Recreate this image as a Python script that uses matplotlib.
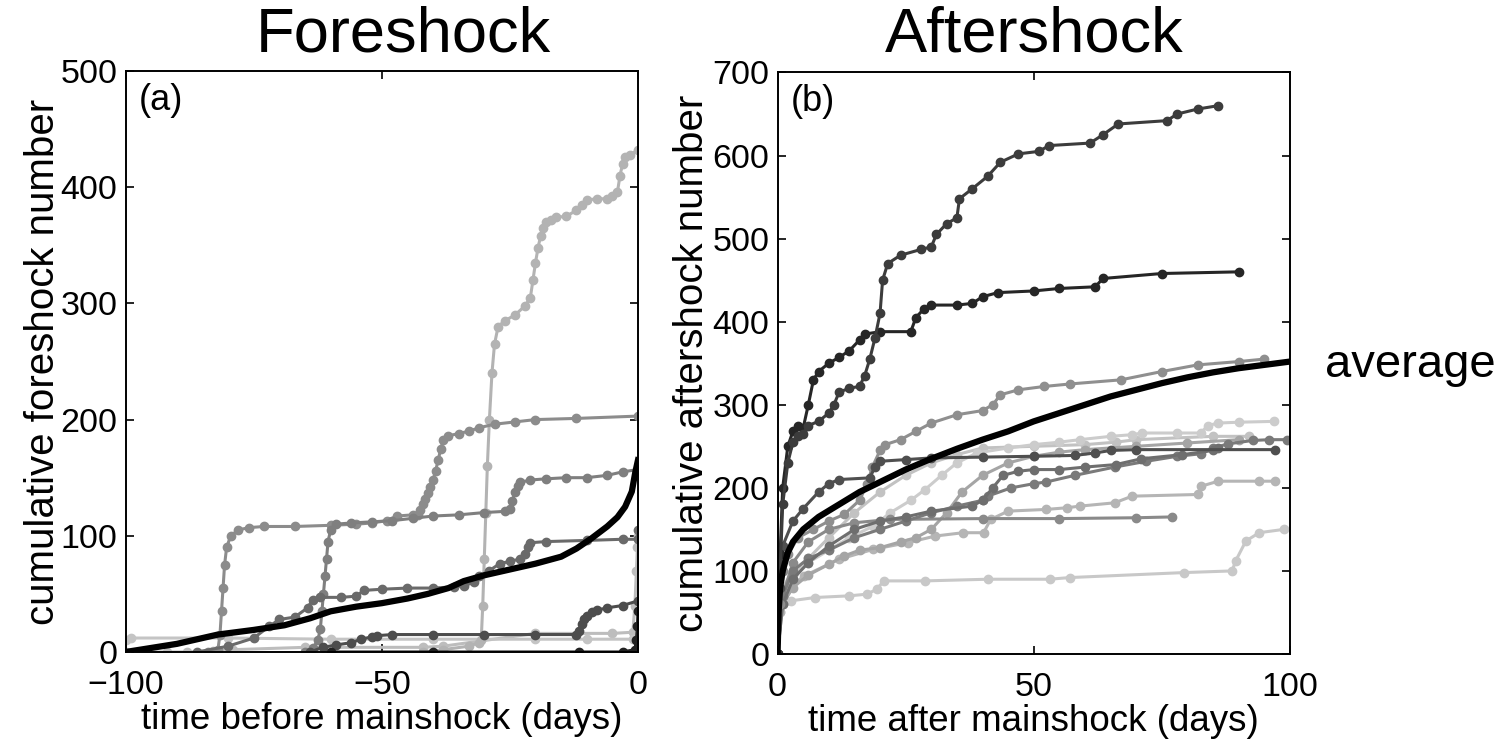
import matplotlib
matplotlib.use("Agg")
import matplotlib.pyplot as plt

plt.rcParams['font.family'] = ['Liberation Sans', 'DejaVu Sans']

# ---- foreshock sequences (days before mainshock, cumulative count) ----
fore_avg_t = [-100, -90, -82, -75, -69, -64, -60, -55, -50, -45, -41, -37, -34, -30, -26,
              -20, -15, -12, -9, -6, -4, -2.5, -1.2, -0.5, 0]
fore_avg_n = [0, 7, 15, 19, 23, 29, 35, 39, 42, 46, 50, 55, 61, 66, 70,
              76, 82, 89, 98, 108, 116, 125, 138, 155, 165]

fore_1_t = [-42, -38, -33, -31, -30.6, -30.3, -30, -29.7, -29.4, -29, -28.5, -28, -27.3, -26,
            -24, -22, -21, -20.5, -20, -19.5, -19, -18.5, -18, -17, -16, -14, -12, -11, -10,
            -8, -6, -5, -4, -3.5, -3, -2.5, -1.5, 0]
fore_1_n = [0, 2, 5, 8, 10, 40, 80, 120, 160, 200, 240, 265, 280, 285,
            290, 298, 305, 320, 335, 348, 358, 365, 370, 372, 374, 375, 380, 385, 389,
            390, 390, 392, 396, 410, 420, 426, 428, 432]

fore_2_t = [-84, -82, -81.6, -81.3, -81, -80.7, -80.3, -79.5, -78, -76, -73, -67, -60, -55,
            -52, -49, -47, -44, -43, -42.5, -42, -41.5, -41, -40.5, -40, -39.5, -39, -38.5,
            -38, -37, -35, -33, -31, -28, -24, -20, -12, 0]
fore_2_n = [0, 2, 15, 35, 55, 75, 90, 100, 105, 107, 108, 108, 109, 110,
            111, 113, 117, 118, 118, 122, 127, 132, 137, 142, 148, 156, 165, 175,
            182, 186, 188, 190, 193, 196, 198, 200, 201, 203]

fore_3_t = [-65, -63.5, -62.5, -62, -61.7, -61.4, -61.1, -60.8, -60.5, -60, -59, -56, -52,
            -48, -44, -40, -35, -30, -26, -25, -24.5, -24, -23.5, -23, -21, -18, -14, -10,
            -6, -3, 0]
fore_3_n = [0, 3, 10, 20, 35, 50, 65, 80, 95, 105, 110, 111, 112,
            113, 115, 117, 118, 120, 121, 123, 130, 138, 143, 146, 148, 149, 150, 150,
            152, 155, 157]

fore_4_t = [-86, -80, -75, -72, -70, -67, -64.5, -63.5, -62, -58, -55, -53.5, -50, -45, -40,
            -36, -34, -32, -31, -29, -27, -25, -23, -22, -21.5, -21, -18, -10, -3, 0, 0]
fore_4_n = [0, 5, 12, 22, 28, 30, 38, 45, 47, 47, 48, 53, 54, 55, 55,
            56, 57, 60, 65, 70, 76, 78, 80, 84, 90, 94, 95, 96, 97, 97, 105]

fore_5_t = [-64, -61.5, -59, -56, -54, -52, -51, -48, -40, -30, -20, -12, -11.5, -11, -10.5,
            -10, -9, -8, -6, -3, 0]
fore_5_n = [0, 4, 6, 8, 11, 13, 14, 15, 15, 15, 15, 15, 18, 24, 28,
            31, 34, 36, 38, 40, 44]

fore_6_t = [-60, -40, -11.6, -3, -0.6, -0.3, -0.1, 0]
fore_6_n = [0, 0, 0, 0, 2, 10, 22, 35]

fore_7_t = [-100, -99, -80, -60, -40, -20, -10, -1, 0]
fore_7_n = [10, 12, 12, 11, 11, 11, 11, 11, 11]

fore_8_t = [-100, -92, -88, -83, -79, -65, -42, -38, -20, -5, -1, -0.6, -0.3, -0.1, 0]
fore_8_n = [0, 0, 0, 1, 2, 4, 4, 5, 16, 16, 17, 40, 70, 90, 100]

# ---- aftershock sequences (days after mainshock, cumulative count) ----
after_avg_t = [0, 0.2, 0.5, 1, 2, 3, 5, 8, 12, 16, 20, 25, 30, 35, 40, 45, 50, 55, 60, 65,
               70, 75, 80, 85, 90, 95, 100]
after_avg_n = [0, 50, 80, 100, 122, 135, 150, 165, 180, 195, 207, 222, 235, 247, 258, 268,
               280, 290, 300, 310, 318, 326, 333, 339, 344, 348, 352]

after_1_t = [0, 0.5, 1, 2, 3, 4, 5, 6, 8, 10, 11, 12, 14, 16, 17, 18, 19, 20, 20.5, 21.5, 24,
             28, 30, 31, 33, 35, 35.5, 38, 41, 43.5, 47, 51, 53, 61, 63.5, 66.5, 76, 78, 82, 86]
after_1_n = [0, 100, 180, 230, 255, 262, 265, 275, 280, 290, 300, 315, 320, 322, 335, 355,
             380, 410, 450, 470, 480, 487, 490, 505, 518, 525, 548, 560, 575, 592, 602, 605,
             612, 615, 625, 638, 642, 650, 656, 660]

after_2_t = [0, 0.5, 1, 2, 3, 4, 5, 6, 7, 8, 10, 12, 14, 16, 17, 20, 26, 27, 28.5, 30, 35,
             38, 40, 43, 50, 55, 62, 63.5, 75, 90]
after_2_n = [0, 120, 200, 250, 268, 275, 272, 300, 330, 340, 350, 357, 365, 378, 385, 388,
             388, 405, 415, 420, 420, 422, 430, 435, 437, 440, 442, 452, 458, 460]

after_3_t = [0, 0.5, 1, 2, 4, 7, 10, 13, 16, 17.5, 18.5, 20, 21, 24, 27, 30, 35, 40, 42, 43.5,
             47, 52, 57, 67, 75, 82, 90, 95]
after_3_n = [0, 60, 100, 120, 140, 150, 160, 168, 185, 205, 225, 245, 252, 258, 268, 278, 288,
             293, 300, 312, 318, 322, 325, 330, 340, 348, 352, 355]

after_4_t = [0, 1, 3, 6, 10, 14, 18.7, 22, 26, 28.8, 32, 35, 38.9, 45, 50, 55, 59, 65, 69.2,
             71.2, 78, 82.6, 84, 86, 90, 96.8]
after_4_n = [0, 75, 95, 110, 125, 140, 154, 170, 185, 198, 215, 230, 242, 248, 252, 255, 258,
             262, 264, 266, 266, 266, 275, 278, 279, 280]

after_5_t = [0, 0.5, 1, 3, 5, 8, 10, 12, 18, 19, 20, 25, 30, 40, 50, 58, 62, 65, 70, 97]
after_5_n = [0, 80, 130, 160, 175, 195, 205, 210, 212, 225, 232, 234, 236, 237, 238, 239, 242,
             245, 246, 246]

after_6_t = [0, 1, 3, 6, 10, 15, 20, 25, 30, 38, 40, 42, 44, 47, 50, 55, 60, 66, 71, 79, 85, 86]
after_6_n = [0, 60, 90, 110, 130, 150, 160, 165, 172, 178, 185, 200, 215, 220, 222, 222, 225,
             228, 235, 240, 245, 248]

after_7_t = [0, 1, 3, 6, 10, 15, 20, 25, 30, 35, 40, 41, 45.6, 50, 52.4, 58, 65.8, 72, 78,
             82.6, 85, 88, 92.7, 96, 99.5]
after_7_n = [0, 70, 100, 115, 125, 140, 150, 160, 170, 178, 185, 190, 200, 205, 207, 215, 225,
             232, 238, 241, 248, 253, 257, 258, 258]

after_8_t = [0, 0.5, 1.9, 5.2, 12, 18.7, 25.4, 30.8, 36.2, 40.2, 41.6, 45, 52.4, 56.4, 59, 65.8,
             69.2, 82, 82.7, 86, 94, 97]
after_8_n = [0, 50, 78, 94, 114, 126, 134, 142, 146, 146, 162, 172, 174, 176, 178, 182, 190,
             192, 202, 208, 208, 208]

after_9_t = [0, 1, 3, 6, 10, 15, 22, 40, 55, 70, 77]
after_9_n = [0, 70, 110, 135, 150, 158, 162, 163, 163, 164, 165]

after_10_t = [0, 0.5, 2.6, 7.3, 14, 17.4, 19.4, 20.7, 28.8, 41, 53.1, 57, 79.3, 88.7, 89.4,
              91.4, 94, 98.8]
after_10_n = [0, 50, 64, 68, 70, 72, 78, 88, 88, 90, 90, 92, 98, 100, 112, 136, 146, 150]

after_11_t = [0, 1, 3, 6, 10, 15, 20, 25, 30, 35, 40, 50, 60, 66, 70, 85, 92]
after_11_n = [0, 80, 100, 115, 140, 170, 195, 215, 230, 240, 248, 250, 252, 255, 258, 262, 262]

after_12_t = [0, 1, 3, 6, 10, 13, 16, 20, 24, 27, 30, 33, 36, 40, 45, 50, 55, 60, 70, 80, 90]
after_12_n = [0, 60, 80, 95, 108, 118, 125, 128, 135, 140, 150, 170, 195, 215, 230, 238, 243,
              246, 250, 254, 258]

fore_series = [
    (fore_8_t, fore_8_n, '#bdbdbd'),
    (fore_7_t, fore_7_n, '#c4c4c4'),
    (fore_1_t, fore_1_n, '#b3b3b3'),
    (fore_2_t, fore_2_n, '#8c8c8c'),
    (fore_3_t, fore_3_n, '#7f7f7f'),
    (fore_4_t, fore_4_n, '#6a6a6a'),
    (fore_5_t, fore_5_n, '#4d4d4d'),
    (fore_6_t, fore_6_n, '#222222'),
]

after_series = [
    (after_10_t, after_10_n, '#c8c8c8'),
    (after_11_t, after_11_n, '#c2c2c2'),
    (after_4_t, after_4_n, '#cccccc'),
    (after_8_t, after_8_n, '#b5b5b5'),
    (after_12_t, after_12_n, '#a5a5a5'),
    (after_9_t, after_9_n, '#8a8a8a'),
    (after_7_t, after_7_n, '#7a7a7a'),
    (after_6_t, after_6_n, '#6e6e6e'),
    (after_3_t, after_3_n, '#8f8f8f'),
    (after_5_t, after_5_n, '#4f4f4f'),
    (after_2_t, after_2_n, '#262626'),
    (after_1_t, after_1_n, '#3c3c3c'),
]

fig = plt.figure(figsize=(15.11, 7.47), dpi=100)
ax1 = fig.add_axes([0.0832, 0.1272, 0.3390, 0.7778])
ax2 = fig.add_axes([0.5146, 0.1245, 0.3391, 0.7785])

for t, n, c in fore_series:
    ax1.plot(t, n, color=c, lw=2.2, marker='o', ms=6, mec=c, mfc=c)
ax1.plot(fore_avg_t, fore_avg_n, color='black', lw=4.5)

for t, n, c in after_series:
    ax2.plot(t, n, color=c, lw=2.2, marker='o', ms=6, mec=c, mfc=c)
ax2.plot(after_avg_t, after_avg_n, color='black', lw=4.5)

ax1.set_xlim(-100, 0)
ax1.set_ylim(0, 500)
ax1.set_xticks([-100, -50, 0])
ax1.set_yticks(range(0, 501, 100))
ax2.set_xlim(0, 100)
ax2.set_ylim(0, 700)
ax2.set_xticks([0, 50, 100])
ax2.set_yticks(range(0, 701, 100))

for ax in (ax1, ax2):
    ax.tick_params(direction='in', top=True, right=True, length=6, width=1.2,
                   labelsize=24.5, pad=6)
    ax.tick_params(axis='x', pad=13)
    for s in ax.spines.values():
        s.set_linewidth(1.4)

ax1.set_xlabel('time before mainshock (days)', fontsize=26.5, labelpad=1)
ax1.set_ylabel('cumulative foreshock number', fontsize=29, labelpad=-1)
ax2.set_xlabel('time after mainshock (days)', fontsize=26.5, labelpad=1)
ax2.set_ylabel('cumulative aftershock number', fontsize=29, labelpad=1)

ax1.text(0.025, 0.95, '(a)', transform=ax1.transAxes, fontsize=26, va='center', ha='left')
ax2.text(0.025, 0.95, '(b)', transform=ax2.transAxes, fontsize=26, va='center', ha='left')

fig.text(403 / 1511, 1 - 35 / 747, 'Foreshock', fontsize=45.5, ha='center', va='center')
fig.text(1034 / 1511, 1 - 35 / 747, 'Aftershock', fontsize=45.5, ha='center', va='center')
fig.text(1325 / 1511, 1 - 365 / 747, 'average', fontsize=34, ha='left', va='center')

fig.savefig('out.png', dpi=100)
